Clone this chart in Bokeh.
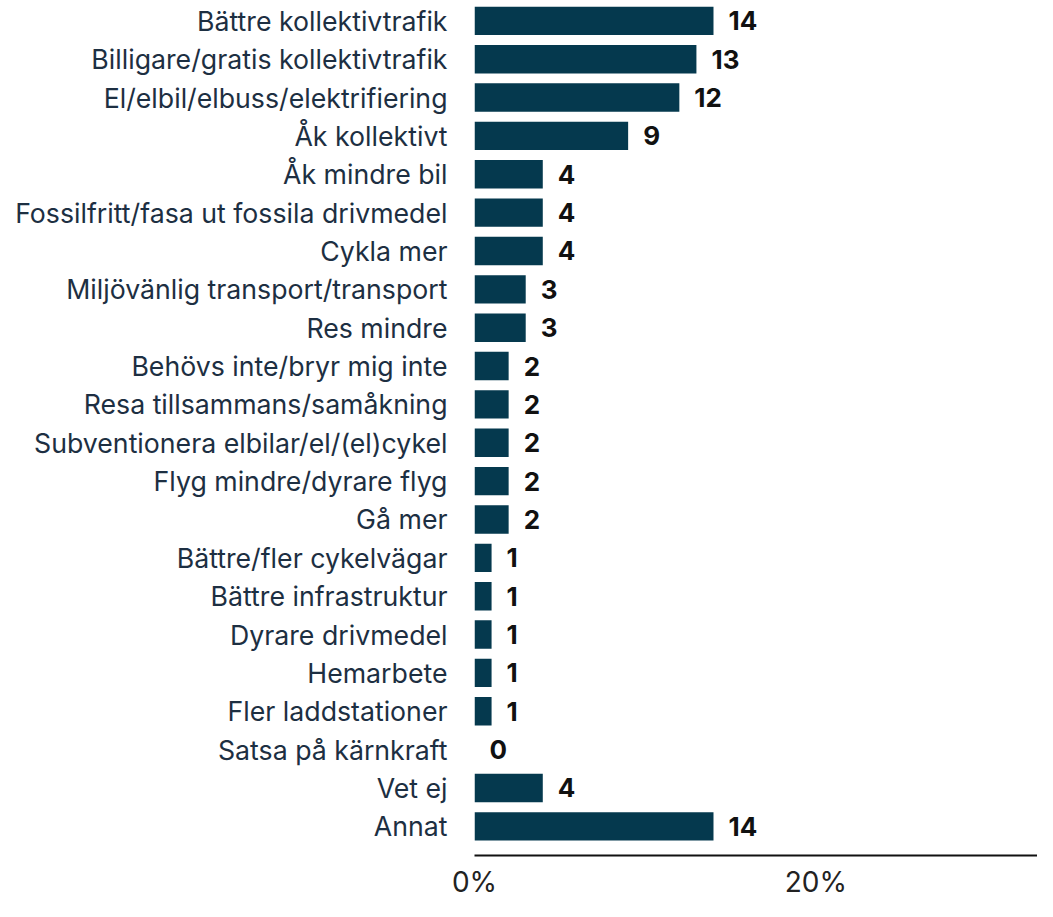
from bokeh.plotting import figure
from bokeh.models import ColumnDataSource, FixedTicker, Range1d
from bokeh.embed import file_html
from bokeh.resources import INLINE

categories = [
    "Bättre kollektivtrafik",
    "Billigare/gratis kollektivtrafik",
    "El/elbil/elbuss/elektrifiering",
    "Åk kollektivt",
    "Åk mindre bil",
    "Fossilfritt/fasa ut fossila drivmedel",
    "Cykla mer",
    "Miljövänlig transport/transport",
    "Res mindre",
    "Behövs inte/bryr mig inte",
    "Resa tillsammans/samåkning",
    "Subventionera elbilar/el/(el)cykel",
    "Flyg mindre/dyrare flyg",
    "Gå mer",
    "Bättre/fler cykelvägar",
    "Bättre infrastruktur",
    "Dyrare drivmedel",
    "Hemarbete",
    "Fler laddstationer",
    "Satsa på kärnkraft",
    "Vet ej",
    "Annat",
]
values = [14, 13, 12, 9, 4, 4, 4, 3, 3, 2, 2, 2, 2, 2, 1, 1, 1, 1, 1, 0, 4, 14]
x_ticks = [0, 20]
x_tick_labels = ["0%", "20%"]

n = len(categories)
ypos = [n - 1 - i for i in range(n)]

src = ColumnDataSource(dict(
    y=ypos,
    v=values,
    lab=[str(v) for v in values],
))

FONT = "Inter"
LABEL_COLOR = "#1d2f42"
BAR_COLOR = "#05394e"

p = figure(
    width=1037, height=901,
    x_range=Range1d(0, 32.98),
    y_range=Range1d(-0.76, n - 1 + 0.53),
    output_backend="svg", toolbar_location=None,
    min_border_left=474, min_border_right=0, min_border_top=0, min_border_bottom=38,
)
p.outline_line_color = None
p.xgrid.visible = False
p.ygrid.visible = False

p.hbar(y="y", right="v", left=0, height=0.74, source=src,
       fill_color=BAR_COLOR, line_color=None)

p.text(x="v", y="y", text="lab", source=src, x_offset=15,
       text_align="left", text_baseline="middle",
       text_font_size="26px", text_font_style="bold",
       text_color="#111111", text_font={"value": FONT})

# y axis
p.yaxis.ticker = FixedTicker(ticks=ypos)
p.yaxis.major_label_overrides = {y: c for y, c in zip(ypos, categories)}
p.yaxis.axis_line_color = None
p.yaxis.major_tick_line_color = None
p.yaxis.minor_tick_line_color = None
p.yaxis.major_label_standoff = 21
p.yaxis.major_label_text_font = FONT
p.yaxis.major_label_text_font_size = "26.7px"
p.yaxis.major_label_text_color = LABEL_COLOR

# x axis
p.xaxis.ticker = FixedTicker(ticks=x_ticks)
p.xaxis.major_label_overrides = {t: l for t, l in zip(x_ticks, x_tick_labels)}
p.xaxis.axis_line_color = "#111111"
p.xaxis.axis_line_width = 2
p.xaxis.major_tick_line_color = None
p.xaxis.minor_tick_line_color = None
p.xaxis.major_label_standoff = 3
p.xaxis.major_label_text_font = FONT
p.xaxis.major_label_text_font_size = "28px"
p.xaxis.major_label_text_color = "#222222"

open("out.html", "w").write(file_html(p, INLINE))
